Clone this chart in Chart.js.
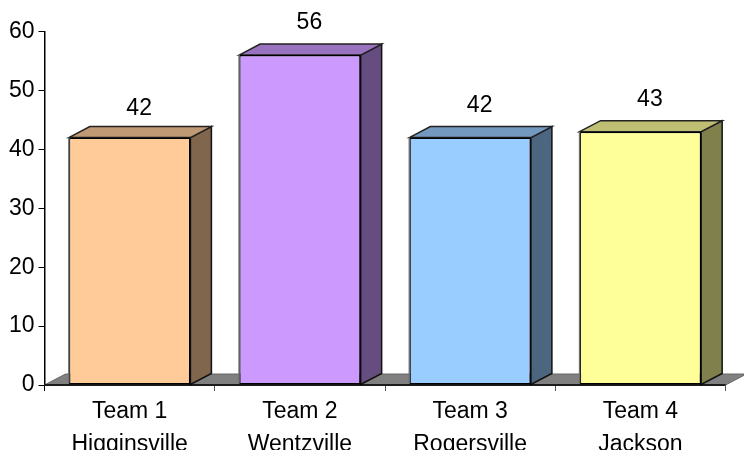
<!DOCTYPE html>
<html>
<head>
<meta charset="utf-8">
<script src="https://cdn.jsdelivr.net/npm/chart.js@4"></script>
<style>
  html, body { margin: 0; padding: 0; background: #fff; overflow: hidden; }
  canvas { display: block; }
</style>
</head>
<body>
<canvas id="teams" width="744" height="450"></canvas>
<script>
const teams = ['Team 1', 'Team 2', 'Team 3', 'Team 4'];
const towns = ['Higginsville', 'Wentzville', 'Rogersville', 'Jackson'];
const scores = [42, 56, 42, 43];
const barColors = ['#FFCC99', '#CC99FF', '#99CCFF', '#FFFF99'];
const yTicks = [0, 10, 20, 30, 40, 50, 60];

const labels = teams.map((t, i) => [t, towns[i]]);

// how far the fake 3D box goes back
const depthX = 21;
const depthY = 11;
// gap between the box top and its value label
const labelLift = [18, 21, 21, 21.5];

// darken a #rrggbb colour for the side and top faces
function shade(hex, f) {
  const n = parseInt(hex.slice(1), 16);
  const r = Math.round((n >> 16 & 255) * f);
  const g = Math.round((n >> 8 & 255) * f);
  const b = Math.round((n & 255) * f);
  return `rgb(${r},${g},${b})`;
}

function poly(ctx, pts, fill, stroke, width) {
  ctx.beginPath();
  pts.forEach((p, i) => i ? ctx.lineTo(p[0], p[1]) : ctx.moveTo(p[0], p[1]));
  ctx.closePath();
  ctx.fillStyle = fill;
  ctx.fill();
  if (stroke) {
    ctx.strokeStyle = stroke;
    ctx.lineWidth = width;
    ctx.stroke();
  }
}

const box3d = {
  id: 'box3d',
  beforeDatasetsDraw(chart) {
    const ctx = chart.ctx;
    const area = chart.chartArea;
    const y0 = chart.scales.y.getPixelForValue(0);
    ctx.save();
    // floor
    poly(ctx, [[area.left, y0], [area.left + depthX, y0 - depthY],
      [area.right + depthX, y0 - depthY], [area.right, y0]], '#808080', '#666666', 1);
    // side and top of every bar
    chart.getDatasetMeta(0).data.forEach((bar, i) => {
      const l = bar.x - bar.width / 2;
      const r = bar.x + bar.width / 2;
      poly(ctx, [[r, bar.y], [r + depthX, bar.y - depthY], [r + depthX, bar.base - depthY], [r, bar.base]],
        shade(barColors[i], 0.5), '#111111', 1.5);
      poly(ctx, [[l, bar.y], [l + depthX, bar.y - depthY], [r + depthX, bar.y - depthY], [r, bar.y]],
        shade(barColors[i], 0.75), '#222222', 1.5);
    });
    ctx.restore();
  },
  afterDatasetsDraw(chart) {
    const ctx = chart.ctx;
    const y0 = chart.scales.y.getPixelForValue(0);
    ctx.save();
    chart.getDatasetMeta(0).data.forEach((bar, i) => {
      // grey left edge of the front face
      const l = bar.x - bar.width / 2;
      ctx.strokeStyle = '#6e6e6e';
      ctx.lineWidth = 1.5;
      ctx.beginPath();
      ctx.moveTo(l, bar.y);
      ctx.lineTo(l, bar.base - 1);
      ctx.stroke();
      // value label
      ctx.fillStyle = '#000';
      ctx.font = '23px "Liberation Sans"';
      ctx.textAlign = 'center';
      ctx.textBaseline = 'middle';
      ctx.fillText(scores[i], bar.x + 9.5, bar.y - depthY - labelLift[i]);
    });
    // axis line sits on top of the floor and the bar feet
    ctx.strokeStyle = '#000';
    ctx.lineWidth = 1.5;
    ctx.beginPath();
    ctx.moveTo(chart.chartArea.left, y0);
    ctx.lineTo(chart.chartArea.right, y0);
    ctx.stroke();
    ctx.restore();
  }
};

new Chart(document.getElementById('teams').getContext('2d'), {
  type: 'bar',
  data: {
    labels: labels,
    datasets: [{
      data: scores,
      backgroundColor: barColors,
      borderColor: '#000',
      borderWidth: 1.5,
      borderSkipped: false,
      barPercentage: 0.714,
      categoryPercentage: 1
    }]
  },
  options: {
    responsive: false,
    animation: false,
    layout: { padding: { top: 31.5, right: 18.5, left: 0, bottom: 0 } },
    plugins: { legend: { display: false }, title: { display: false }, tooltip: { enabled: false } },
    scales: {
      x: {
        afterFit(scale) { scale.height = 65; },
        grid: {
          drawOnChartArea: false,
          drawTicks: true,
          tickLength: 6,
          color: c => c.index === 0 ? '#000' : '#555',
          offset: true
        },
        border: { color: '#000', width: 1.5 },
        ticks: {
          color: '#000',
          maxRotation: 0,
          autoSkip: false,
          padding: 4,
          font: { family: '"Liberation Sans"', size: 23, lineHeight: 1.43 }
        }
      },
      y: {
        min: 0,
        max: 60,
        afterFit(scale) { scale.width = 44.5; },
        afterBuildTicks(scale) { scale.ticks = yTicks.map(v => ({ value: v })); },
        grid: { drawOnChartArea: false, drawTicks: true, tickLength: 6, color: '#000' },
        border: { color: '#000', width: 1.5 },
        ticks: {
          color: '#000',
          padding: 4,
          font: { family: '"Liberation Sans"', size: 23 }
        }
      }
    }
  },
  plugins: [box3d]
});
</script>
</body>
</html>
